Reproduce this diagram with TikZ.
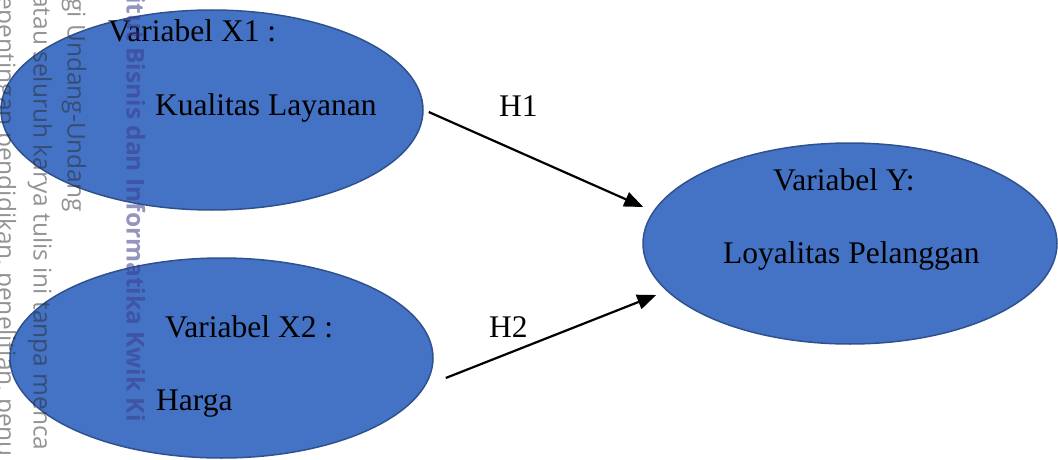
\documentclass[tikz,border=0pt]{standalone}
\usepackage{fontspec}
\setmainfont{Liberation Serif}
\newfontfamily\wmfont{Open Sans}
\usetikzlibrary{arrows.meta,calc,shapes.geometric}
\definecolor{ellfill}{HTML}{4472C4}
\definecolor{elldraw}{HTML}{2F528F}
\definecolor{wmgray}{HTML}{282828}
\definecolor{wmpurple}{HTML}{3C3C8C}
\tikzset{
  varell/.style={ellipse, fill=ellfill, draw=elldraw, line width=1.5pt, inner sep=0pt},
  lbl/.style={anchor=base west, inner sep=0pt, font=\fontsize{31.5}{36}\selectfont},
  hyp/.style={line width=2.2pt, -{Triangle[length=19pt,width=15pt]}},
  wm/.style={rotate=-90, anchor=west, inner sep=0pt, font=\wmfont\fontsize{24.5}{28}\selectfont, text=wmgray, text opacity=0.5},
  wmb/.style={wm, font=\wmfont\bfseries\fontsize{24.5}{28}\selectfont, text=wmpurple, text opacity=0.55}
}
\begin{document}
\begin{tikzpicture}[x=1pt,y=-1pt]
\useasboundingbox (0,0) rectangle (1058,460);
\clip (0,0) rectangle (1058,460);
% ellipses
\node[varell, minimum width=422pt, minimum height=200pt] (x1) at (212,110) {};
\node[varell, minimum width=423pt, minimum height=200pt] (x2) at (221.5,358) {};
\node[varell, minimum width=414pt, minimum height=201pt] (y) at (850,243.5) {};
% texts
\node[lbl] (t1) at (108,42) {Variabel X1 :};
\node[lbl] (t2) at (155,115) {Kualitas Layanan};
\node[lbl] (t3) at (165,337) {Variabel X2 :};
\node[lbl] (t4) at (156,410) {Harga};
\node[lbl] (t5) at (773,190) {Variabel Y:};
\node[lbl] (t6) at (723,263) {Loyalitas Pelanggan};
\node[lbl] (h1) at (499,116) {H1};
\node[lbl] (h2) at (489,337) {H2};
% arrows
\draw[hyp] ($(x1.east)+(5,2)$) -- ($(y.west)+(1,-36.5)$);
\draw[hyp] ($(x2.east)+(12,20)$) -- ($(y.west)+(14,51.5)$);
% watermark
\node[wm] (w1) at (4,-4) {epentingan pendidikan, penelitian, penu};
\node[wm] (w2) at (40,-6) {atau seluruh karya tulis ini tanpa menca};
\node[wm] (w3) at (74,-2) {gi Undang-Undang};
\node[wmb] (w4) at (136,-4) {itut Bisnis dan Informatika Kwik Ki};
\end{tikzpicture}
\end{document}
